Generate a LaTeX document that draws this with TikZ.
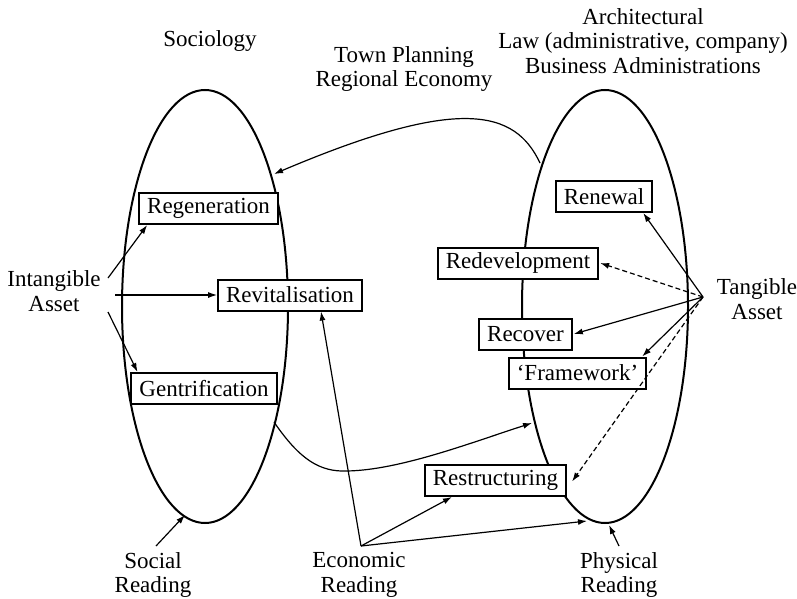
\documentclass[tikz,border=0pt]{standalone}
\usepackage{fontspec}
\setmainfont{Liberation Serif}
\usetikzlibrary{arrows.meta,calc,shapes.geometric}
\begin{document}
\begin{tikzpicture}[x=1pt,y=-1pt,
  every node/.style={font=\fontsize{23}{24.5}\selectfont},
  box/.style={draw,line width=2pt,fill=white,inner xsep=8pt,inner ysep=0pt,minimum height=31pt},
  lbl/.style={align=center,inner sep=0pt},
  oval/.style={ellipse,draw,line width=2pt,minimum width=166pt,minimum height=433pt,inner sep=0pt},
  arr/.style={line width=1.2pt,-{Latex[length=9pt,width=6pt]}},
  darr/.style={arr,dash pattern=on 5pt off 3pt}]
\useasboundingbox (0,0) rectangle (797,599);
% ovals
\node[oval] (L) at (205,306.5) {};
\node[oval] (R) at (605,306.5) {};
% labels
\node[lbl] (soc) at (210,41) {Sociology};
\node[lbl] (tp) at (404,69) {Town Planning\\Regional Economy};
\node[lbl] (arch) at (643,41) {Architectural\\Law (administrative, company)\\Business Administrations};
\node[lbl] (ia) at (54,291) {Intangible\\Asset};
\node[lbl] (ta) at (757,299) {Tangible\\Asset};
\node[lbl] (sr) at (153,575) {Social\\Reading};
\node[lbl] (er) at (359,575) {Economic\\Reading};
\node[lbl] (pr) at (619,575) {Physical\\Reading};
% boxes
\node[box] (reg) at (208.5,208.5) {Regeneration};
\node[box] (rev) at (290,295) {Revitalisation};
\node[box] (gen) at (204,388.5) {Gentrification};
\node[box] (ren) at (604,196.5) {Renewal};
\node[box] (red) at (518,263) {Redevelopment};
\node[box] (rec) at (525.5,334) {Recover};
\node[box] (fra) at (577.5,373) {`Framework'};
\node[box] (res) at (495.5,480.5) {Restructuring};
% connector end points
\coordinate (ia1) at (108,278);
\coordinate (ia2) at (115,295);
\coordinate (ia3) at (108,312);
\coordinate (tac) at (703,297);
\coordinate (erc) at (361,546);
\coordinate (src) at (156,546);
\coordinate (prc) at (619,546);
\coordinate (rtop) at (540,163);
\coordinate (ltop) at (274,174);
\coordinate (lbot) at (185,515);
\coordinate (rbot) at (609,525);
\coordinate (rbl) at (587,521);
\coordinate (gstart) at (274,422);
\coordinate (rmid) at (532,423);
% connectors
\draw[arr] (rtop) .. controls (515,110) and (460,95) .. (ltop);
\draw[arr] (ia1) -- ($(reg.south west)+(9,0)$);
\draw[arr] (ia2) -- (rev.west);
\draw[arr] (ia3) -- ($(gen.north west)+(7,0)$);
\draw[arr] (gstart) .. controls (300,460) and (320,472) .. (347,471) .. controls (400,470) and (470,443) .. (rmid);
\draw[arr] (erc) -- ($(rev.south)+(31,0)$);
\draw[arr] (erc) -- ($(res.south west)+(28,0)$);
\draw[arr] (erc) -- (rbl);
\draw[arr] (src) -- (lbot);
\draw[arr] (prc) -- (rbot);
\draw[arr] (tac) -- ($(ren.south east)+(-10,0)$);
\draw[darr] (tac) -- ($(red.east)+(1,0)$);
\draw[arr] (tac) -- ($(rec.east)+(1,0)$);
\draw[arr] (tac) -- ($(fra.north east)+(-5,0)$);
\draw[darr] (tac) -- ($(res.east)+(5,1)$);
\end{tikzpicture}
\end{document}
